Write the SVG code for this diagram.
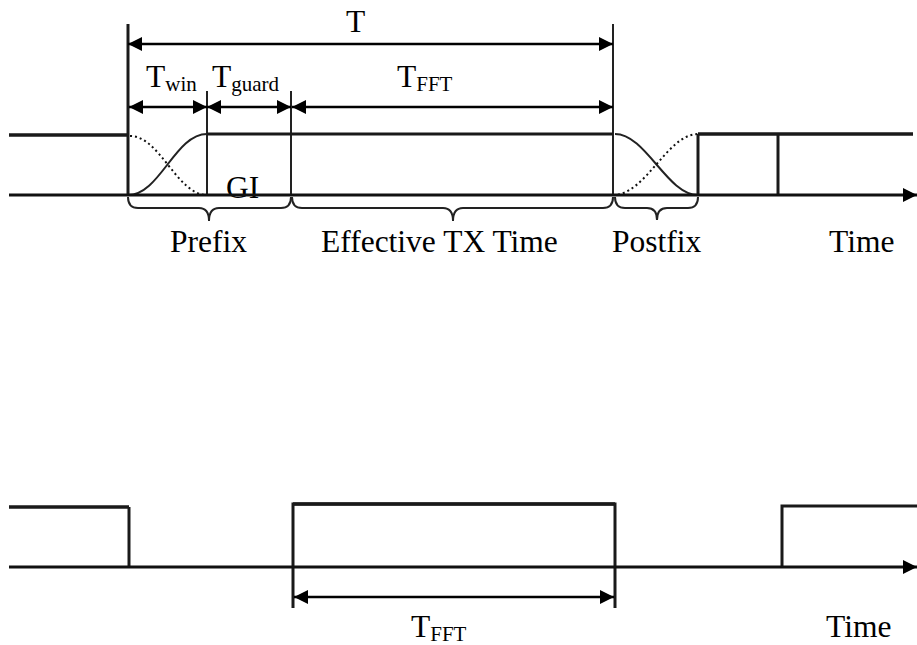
<svg xmlns="http://www.w3.org/2000/svg" width="917" height="645" viewBox="0 0 917 645">
<style>
text{font-family:"Liberation Serif","DejaVu Serif",serif;fill:#000}
.lbl{font-size:31.5px}
.sub{font-size:21px}
.ax{stroke:#111;stroke-width:3;fill:none}
.lvl{stroke:#1a1a1a;stroke-width:3.5;fill:none}
.thin{stroke:#222;stroke-width:2;fill:none}
.mid{stroke:#1a1a1a;stroke-width:3;fill:none}
.dim{stroke:#000;stroke-width:2.5;fill:none}
.dot{stroke:#111;stroke-width:2;stroke-dasharray:2 3;fill:none}
.br{stroke:#222;stroke-width:2;fill:none}
</style>
<defs>
<marker id="ah" viewBox="0 0 14 14" refX="14" refY="7" markerWidth="14" markerHeight="14" markerUnits="userSpaceOnUse" orient="auto-start-reverse">
<path d="M0,0 L14,7 L0,14 z" fill="#000"/>
</marker>
</defs>
<g id="top-diagram">
<g id="top-labels">
<text class="lbl" x="346" y="32">T</text>
<text class="lbl" x="146" y="87">T<tspan class="sub" dy="4">win</tspan></text>
<text class="lbl" x="212" y="87">T<tspan class="sub" dy="4">guard</tspan></text>
<text class="lbl" x="397" y="87">T<tspan class="sub" dy="4">FFT</tspan></text>
<text class="lbl" x="226" y="198">GI</text>
<text class="lbl" x="170" y="252">Prefix</text>
<text class="lbl" x="321" y="252">Effective TX Time</text>
<text class="lbl" x="612" y="252">Postfix</text>
<text class="lbl" x="829" y="252">Time</text>
</g>
<g id="top-signal">
<line class="lvl" x1="9" y1="135" x2="128" y2="135"/>
<line class="mid" x1="128" y1="24" x2="128" y2="195"/>
<line class="thin" x1="207" y1="91" x2="207" y2="195"/>
<line class="thin" x1="291" y1="91" x2="291" y2="195"/>
<line class="thin" x1="613" y1="24" x2="613" y2="195"/>
<line class="mid" x1="207" y1="134" x2="613" y2="134"/>
<path class="thin" d="M128,195 C160,195 175,134 207,134"/>
<path class="dot" d="M130,136 C160,136 177,195 207,195"/>
<path class="thin" d="M615,134 C646,134 667,195 698,195"/>
<path class="dot" d="M613,195 C646,195 667,134 698,134"/>
<line class="lvl" x1="698" y1="134" x2="913" y2="134"/>
<line class="mid" x1="698" y1="134" x2="698" y2="195"/>
<line class="mid" x1="778" y1="134" x2="778" y2="195"/>
<line class="ax" x1="9" y1="195" x2="917" y2="195" marker-end="url(#ah)"/>
</g>
<g id="top-dimensions">
<line class="dim" x1="128" y1="44" x2="613" y2="44" marker-start="url(#ah)" marker-end="url(#ah)"/>
<line class="dim" x1="129" y1="107" x2="207" y2="107" marker-start="url(#ah)" marker-end="url(#ah)"/>
<line class="dim" x1="207" y1="107" x2="291" y2="107" marker-start="url(#ah)" marker-end="url(#ah)"/>
<line class="dim" x1="292" y1="107" x2="613" y2="107" marker-start="url(#ah)" marker-end="url(#ah)"/>
</g>
<g id="braces">
<path class="br" d="M128,197 Q128,208 138,208 L199,208 Q209,208 209,221 Q209,208 219,208 L281,208 Q291,208 291,197"/>
<path class="br" d="M292,197 Q292,208 302,208 L443,208 Q453,208 453,221 Q453,208 463,208 L603,208 Q613,208 613,197"/>
<path class="br" d="M615,197 Q615,208 625,208 L647,208 Q657,208 657,220 Q657,208 667,208 L688,208 Q698,208 698,197"/>
</g>
</g>
<g id="bottom-diagram">
<line class="lvl" x1="9" y1="507" x2="129" y2="507"/>
<line class="mid" x1="129" y1="507" x2="129" y2="567"/>
<path class="mid" d="M293,608 L293,504 L615,504 L615,608"/>
<line class="lvl" x1="293" y1="504" x2="615" y2="504"/>
<path class="mid" d="M782,567 L782,506 L917,506"/>
<line class="ax" x1="9" y1="567" x2="917" y2="567" marker-end="url(#ah)"/>
<line class="dim" x1="294" y1="597" x2="614" y2="597" marker-start="url(#ah)" marker-end="url(#ah)"/>
<text class="lbl" x="411" y="637">T<tspan class="sub" dy="4">FFT</tspan></text>
<text class="lbl" x="826" y="637">Time</text>
</g>
</svg>
